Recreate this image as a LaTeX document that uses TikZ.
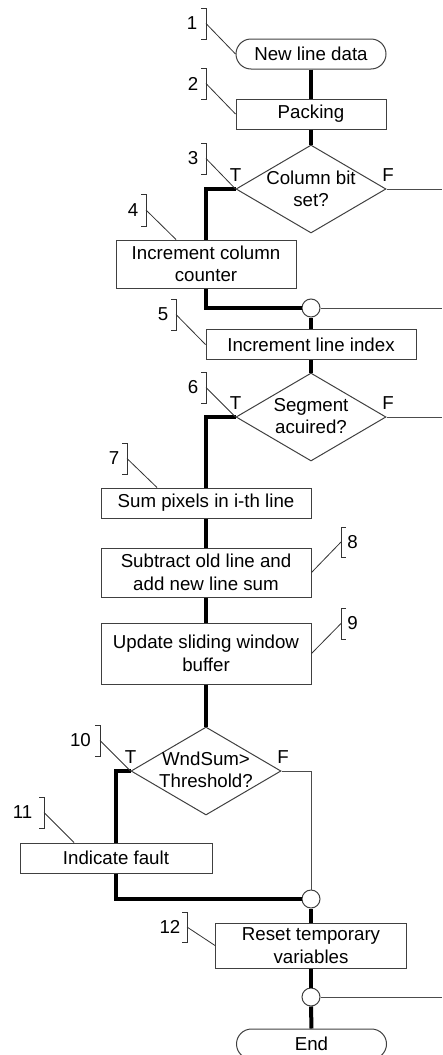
\documentclass[tikz,border=0pt]{standalone}
\usepackage{fontspec}
\setmainfont{Liberation Sans}
\usetikzlibrary{shapes.geometric}
\begin{document}
\begin{tikzpicture}[x=1pt,y=-1pt,
  every node/.style={font=\fontsize{18.7}{22.5}\selectfont, inner sep=0pt, text=black},
  procbox/.style={draw=black!75, line width=1pt, fill=white, align=center},
  termbox/.style={draw=black!75, line width=1pt, rounded corners=15pt, minimum width=150pt, minimum height=30pt, align=center},
  decision/.style={draw=black!75, line width=1pt, diamond, minimum width=150pt, minimum height=88pt},
  junction/.style={draw=black!75, line width=1pt, circle, fill=white, minimum size=18pt},
  flowthick/.style={line width=4pt, black},
  flowthin/.style={line width=1pt, black!70},
  leader/.style={line width=0.8pt, black!80},
  bracketline/.style={line width=0.8pt, black!80},
]
\useasboundingbox (0,0) rectangle (442,1055);
\clip (0,0) rectangle (442,1055);

% ---------- main nodes ----------
\node[termbox] (n1) at (311,54) {New line data};
\node[procbox, minimum width=150pt, minimum height=30pt] (n2) at (311,114) {Packing};
\node[decision] (n3) at (311,189) {};
\node[align=center] (n3t) at (311,189) {Column bit\\set?};
\node[procbox, minimum width=180pt, minimum height=48pt] (n4) at (206,264) {Increment column\\counter};
\node[junction] (j1) at (311,308) {};
\node[procbox, minimum width=210pt, minimum height=30pt] (n5) at (311,344.5) {Increment line index};
\node[decision] (n6) at (311,417) {};
\node[align=center] (n6t) at (311,416) {Segment\\acuired?};
\node[procbox, minimum width=210pt, minimum height=30pt] (n7) at (206,503) {Sum pixels in i-th line};
\node[procbox, minimum width=210pt, minimum height=49pt] (n8) at (206,572.5) {Subtract old line and\\add new line sum};
\node[procbox, minimum width=210pt, minimum height=61pt] (n9) at (206,653.5) {Update sliding window\\buffer};
\node[decision] (n10) at (206,771) {};
\node[align=center] (n10t) at (206,770) {WndSum>\\Threshold?};
\node[procbox, minimum width=192pt, minimum height=30pt] (n11) at (116,858) {Indicate fault};
\node[junction] (j2) at (311,899) {};
\node[procbox, minimum width=191pt, minimum height=45pt] (n12) at (311,945.5) {Reset temporary\\variables};
\node[junction] (j3) at (311,997) {};
\node[termbox] (n13) at (311.5,1044) {End};

% ---------- T / F labels ----------
\node (t3) at ([yshift=14pt]n3.west) {T};
\node (f3) at ([xshift=1.5pt,yshift=14pt]n3.east) {F};
\node (t6) at ([yshift=14pt]n6.west) {T};
\node (f6) at ([xshift=1.5pt,yshift=14pt]n6.east) {F};
\node (t10) at ([yshift=14pt]n10.west) {T};
\node (f10) at ([xshift=1.5pt,yshift=14pt]n10.east) {F};

% ---------- off-picture ends ----------
\coordinate (r1) at (442,189);
\coordinate (r2) at (442,308);
\coordinate (r3) at (442,417);
\coordinate (r4) at (442,997);

% ---------- connectors ----------
\draw[flowthick] (n1.south) -- (n2.north);
\draw[flowthick] (n2.south) -- (n3.north);
\draw[flowthick] (n3.west) -| (n4.north);
\draw[flowthin] (n3.east) -- (r1);
\draw[flowthick] (n4.south) |- (j1.west);
\draw[flowthin] (j1.east) -- (r2);
\draw[flowthick] (j1.south) -- (n5.north);
\draw[flowthick] (n5.south) -- (n6.north);
\draw[flowthick] (n6.west) -| (n7.north);
\draw[flowthin] (n6.east) -- (r3);
\draw[flowthick] (n7.south) -- (n8.north);
\draw[flowthick] (n8.south) -- (n9.north);
\draw[flowthick] (n9.south) -- (n10.north);
\draw[flowthick] (n10.west) -| (n11.north);
\draw[flowthin] (n10.east) -| (j2.north);
\draw[flowthick] (n11.south) |- (j2.west);
\draw[flowthick] (j2.south) -- (n12.north);
\draw[flowthick] (n12.south) -- (j3.north);
\draw[flowthin] (j3.east) -- (r4);
\draw[flowthick] (j3.south) -- (n13.north);

% ---------- callout numbers ----------
\node (l1) at (192,23.5) {1};
\node (l2) at (193,83.5) {2};
\node (l3) at (193,158.5) {3};
\node (l4) at (133,210) {4};
\node (l5) at (163,314.5) {5};
\node (l6) at (193,387.5) {6};
\node (l7) at (114,458.5) {7};
\node (l8) at (352.5,542) {8};
\node (l9) at (352.5,623.5) {9};
\node (l10) at (80.5,740.5) {10};
\node (l11) at (22.5,812.5) {11};
\node (l12) at (170,927) {12};

% brackets
\draw[bracketline] (201,8) -- (206,8) -- (206,39) -- (201,39);
\draw[bracketline] (201,68) -- (206,68) -- (206,99) -- (201,99);
\draw[bracketline] (201,143) -- (206,143) -- (206,174) -- (201,174);
\draw[bracketline] (141,194) -- (146,194) -- (146,226) -- (141,226);
\draw[bracketline] (171,299) -- (176,299) -- (176,330) -- (171,330);
\draw[bracketline] (201,372) -- (206,372) -- (206,403) -- (201,403);
\draw[bracketline] (122,443) -- (127,443) -- (127,474) -- (122,474);
\draw[bracketline] (346,527) -- (341,527) -- (341,557) -- (346,557);
\draw[bracketline] (346,608) -- (341,608) -- (341,639) -- (346,639);
\draw[bracketline] (95,725) -- (100,725) -- (100,756) -- (95,756);
\draw[bracketline] (39,797) -- (44,797) -- (44,828) -- (39,828);
\draw[bracketline] (182,912) -- (187,912) -- (187,942) -- (182,942);

\coordinate (b1) at (206,23.5);
\coordinate (b2) at (206,83.5);
\coordinate (b3) at (206,158.5);
\coordinate (b4) at (146,210);
\coordinate (b5) at (176,314.5);
\coordinate (b6) at (206,387.5);
\coordinate (b7) at (127,458.5);
\coordinate (b8) at (341,542);
\coordinate (b9) at (341,623.5);
\coordinate (b10) at (100,740.5);
\coordinate (b11) at (44,812.5);
\coordinate (b12) at (187,927);

% leaders
\draw[leader] (b1) -- (n1.west);
\draw[leader] (b2) -- (n2.west);
\draw[leader] (b3) -- (n3.west);
\draw[leader] (b4) -- ([xshift=-30pt]n4.north);
\draw[leader] (b5) -- (n5.west);
\draw[leader] (b6) -- (n6.west);
\draw[leader] (b7) -- ([xshift=-49pt]n7.north);
\draw[leader] (b8) -- (n8.east);
\draw[leader] (b9) -- (n9.east);
\draw[leader] (b10) -- (n10.west);
\draw[leader] (b11) -- ([xshift=-42pt]n11.north);
\draw[leader] (b12) -- (n12.west);
\end{tikzpicture}
\end{document}
